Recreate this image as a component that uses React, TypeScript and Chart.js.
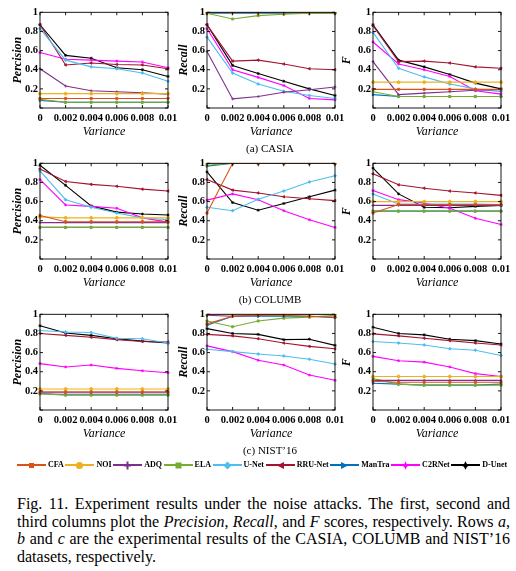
import React, { useEffect, useRef } from 'react';
import { Chart, registerables } from 'chart.js';
Chart.register(...registerables);

const FONT = "'Liberation Serif', 'Times New Roman', serif";

const xTickLabels = ['0', '0.002', '0.004', '0.006', '0.008', '0.01'];
const yTickValues = [0.2, 0.4, 0.6, 0.8, 1];
const yTickLabels = ['0.2', '0.4', '0.6', '0.8', '1'];

const methods = ['CFA', 'NOI', 'ADQ', 'ELA', 'U-Net', 'RRU-Net', 'ManTra', 'C2RNet', 'D-Unet'];
const colors = ['#D95319', '#EDB120', '#7E2F8E', '#77AC30', '#4DBEEE', '#A2142F', '#0072BD', '#FF00FF', '#000000'];
const pointStyles = ['rect', 'circle', 'cross', 'rect', 'rectRot', 'triangle', 'triangle', 'star', 'star'];
const pointRotations = [0, 0, 0, 0, 0, -90, 90, 0, 0];

// rows: CFA, NOI, ADQ, ELA, U-Net, RRU-Net, ManTra, C2RNet, D-Unet
const casiaPrecision = [
  [0.10, 0.10, 0.10, 0.10, 0.10, 0.10],
  [0.15, 0.15, 0.15, 0.15, 0.15, 0.15],
  [0.41, 0.23, 0.18, 0.17, 0.16, 0.145],
  [0.09, 0.06, 0.06, 0.06, 0.06, 0.06],
  [0.83, 0.50, 0.43, 0.41, 0.365, 0.28],
  [0.87, 0.45, 0.47, 0.455, 0.45, 0.41],
  [0.08, 0.06, 0.06, 0.06, 0.06, 0.06],
  [0.58, 0.51, 0.50, 0.49, 0.48, 0.42],
  [0.87, 0.55, 0.52, 0.42, 0.40, 0.33],
];
const casiaRecall = [
  [1, 1, 1, 1, 1, 1],
  [1, 1, 1, 1, 1, 1],
  [0.59, 0.095, 0.12, 0.165, 0.19, 0.22],
  [0.99, 0.93, 0.965, 0.98, 0.99, 0.99],
  [0.74, 0.365, 0.25, 0.175, 0.13, 0.10],
  [0.87, 0.49, 0.50, 0.46, 0.41, 0.40],
  [0.99, 0.99, 0.99, 0.99, 0.99, 0.99],
  [0.83, 0.40, 0.32, 0.235, 0.10, 0.085],
  [0.87, 0.445, 0.36, 0.28, 0.20, 0.13],
];
const casiaF = [
  [0.195, 0.195, 0.195, 0.195, 0.195, 0.195],
  [0.27, 0.27, 0.27, 0.27, 0.27, 0.27],
  [0.485, 0.14, 0.155, 0.17, 0.185, 0.19],
  [0.17, 0.12, 0.12, 0.12, 0.12, 0.12],
  [0.79, 0.415, 0.325, 0.25, 0.20, 0.17],
  [0.86, 0.485, 0.49, 0.47, 0.43, 0.415],
  [0.14, 0.12, 0.12, 0.12, 0.12, 0.12],
  [0.69, 0.46, 0.40, 0.33, 0.18, 0.145],
  [0.87, 0.50, 0.43, 0.35, 0.26, 0.20],
];
const columbPrecision = [
  [0.455, 0.39, 0.39, 0.39, 0.39, 0.39],
  [0.44, 0.43, 0.43, 0.43, 0.43, 0.43],
  [0.38, 0.38, 0.38, 0.38, 0.38, 0.38],
  [0.33, 0.33, 0.33, 0.33, 0.33, 0.33],
  [0.92, 0.62, 0.54, 0.48, 0.43, 0.41],
  [0.94, 0.81, 0.78, 0.76, 0.73, 0.71],
  [0.33, 0.33, 0.33, 0.33, 0.33, 0.33],
  [0.83, 0.565, 0.55, 0.53, 0.43, 0.385],
  [0.98, 0.77, 0.555, 0.49, 0.47, 0.46],
];
const columbRecall = [
  [0.48, 1, 1, 1, 1, 1],
  [1, 1, 1, 1, 1, 1],
  [1, 1, 1, 1, 1, 1],
  [0.98, 1, 1, 1, 1, 1],
  [0.54, 0.505, 0.625, 0.71, 0.805, 0.87],
  [0.83, 0.72, 0.69, 0.65, 0.63, 0.61],
  [0.97, 1, 1, 1, 1, 1],
  [0.615, 0.68, 0.62, 0.505, 0.41, 0.33],
  [0.91, 0.59, 0.51, 0.58, 0.65, 0.72],
];
const columbF = [
  [0.48, 0.57, 0.57, 0.57, 0.57, 0.57],
  [0.60, 0.60, 0.60, 0.60, 0.60, 0.60],
  [0.56, 0.56, 0.56, 0.56, 0.56, 0.56],
  [0.50, 0.50, 0.50, 0.50, 0.50, 0.50],
  [0.68, 0.575, 0.575, 0.575, 0.575, 0.57],
  [0.89, 0.775, 0.74, 0.71, 0.69, 0.665],
  [0.50, 0.50, 0.50, 0.50, 0.50, 0.50],
  [0.715, 0.62, 0.585, 0.53, 0.425, 0.36],
  [0.95, 0.68, 0.54, 0.535, 0.55, 0.56],
];
const nistPrecision = [
  [0.19, 0.19, 0.19, 0.19, 0.19, 0.19],
  [0.22, 0.22, 0.22, 0.22, 0.22, 0.22],
  [0.18, 0.18, 0.18, 0.18, 0.18, 0.18],
  [0.17, 0.155, 0.155, 0.155, 0.155, 0.155],
  [0.83, 0.815, 0.81, 0.75, 0.745, 0.70],
  [0.80, 0.78, 0.76, 0.735, 0.715, 0.71],
  [0.17, 0.16, 0.16, 0.16, 0.16, 0.16],
  [0.485, 0.45, 0.47, 0.435, 0.41, 0.39],
  [0.88, 0.805, 0.78, 0.745, 0.72, 0.70],
];
const nistRecall = [
  [0.90, 0.98, 0.99, 0.99, 0.98, 0.97],
  [1, 1, 1, 1, 1, 1],
  [0.99, 0.98, 0.99, 0.995, 1, 1],
  [0.93, 0.87, 0.93, 0.96, 0.97, 0.99],
  [0.635, 0.61, 0.585, 0.565, 0.53, 0.48],
  [0.79, 0.775, 0.745, 0.70, 0.665, 0.64],
  [0.885, 0.98, 0.98, 0.98, 0.98, 0.965],
  [0.67, 0.61, 0.52, 0.47, 0.365, 0.31],
  [0.85, 0.80, 0.79, 0.735, 0.74, 0.675],
];
const nistF = [
  [0.30, 0.29, 0.29, 0.29, 0.29, 0.29],
  [0.35, 0.35, 0.35, 0.35, 0.35, 0.35],
  [0.31, 0.31, 0.31, 0.31, 0.31, 0.31],
  [0.33, 0.27, 0.26, 0.26, 0.26, 0.26],
  [0.715, 0.70, 0.68, 0.64, 0.625, 0.57],
  [0.795, 0.775, 0.75, 0.725, 0.70, 0.68],
  [0.28, 0.27, 0.26, 0.26, 0.26, 0.27],
  [0.56, 0.515, 0.50, 0.45, 0.38, 0.35],
  [0.865, 0.80, 0.785, 0.74, 0.725, 0.69],
];

const rowData = [
  [casiaPrecision, casiaRecall, casiaF],
  [columbPrecision, columbRecall, columbF],
  [nistPrecision, nistRecall, nistF],
];
const yTitles = ['Percision', 'Recall', 'F'];
const yTitlePads = [10.8, 9.8, 6.8];
const rowLabels = ['(a) CASIA', '(b) COLUMB', '(c) NIST’16'];

const COL_LEFT = [40, 207, 373];
const ROW_TOP = [12, 163, 314];
const AREA_W = 128;
const AREA_H = 96;
const Y_AXIS_W = 40;
const X_AXIS_H = 34;
const PAD_TOP = 8;
const PAD_RIGHT = 14;

const boxPlugin = {
  id: 'matlabBox',
  afterDraw(chart: any) {
    const { ctx, chartArea, scales } = chart;
    const { left, right, top, bottom } = chartArea;
    ctx.save();
    ctx.strokeStyle = '#000';
    ctx.lineWidth = 0.9;
    ctx.strokeRect(left, top, right - left, bottom - top);
    const len = 3;
    ctx.beginPath();
    scales.x.ticks.forEach((_: any, i: number) => {
      const px = scales.x.getPixelForTick(i);
      ctx.moveTo(px, bottom);
      ctx.lineTo(px, bottom - len);
      ctx.moveTo(px, top);
      ctx.lineTo(px, top + len);
    });
    scales.y.ticks.forEach((_: any, i: number) => {
      const py = scales.y.getPixelForTick(i);
      ctx.moveTo(left, py);
      ctx.lineTo(left + len, py);
      ctx.moveTo(right, py);
      ctx.lineTo(right - len, py);
    });
    ctx.stroke();
    ctx.restore();
  },
};

function Panel({ data, col, row }: { data: number[][]; col: number; row: number }) {
  const ref = useRef<HTMLCanvasElement>(null);
  const cw = Y_AXIS_W + AREA_W + PAD_RIGHT;
  const ch = PAD_TOP + AREA_H + X_AXIS_H;
  useEffect(() => {
    const chart = new Chart(ref.current as HTMLCanvasElement, {
      type: 'line',
      data: {
        labels: xTickLabels,
        datasets: methods.map((m, i) => ({
          label: m,
          data: data[i],
          borderColor: colors[i],
          backgroundColor: colors[i],
          borderWidth: 1.1,
          pointRadius: 1.5,
          pointStyle: pointStyles[i] as any,
          pointRotation: pointRotations[i],
          pointBorderWidth: 0.8,
          tension: 0,
          fill: false,
        })),
      },
      options: {
        responsive: false,
        maintainAspectRatio: false,
        animation: false,
        layout: { padding: { top: PAD_TOP, right: PAD_RIGHT, left: 0, bottom: 0 } },
        plugins: { legend: { display: false }, tooltip: { enabled: false } },
        scales: {
          x: {
            type: 'category',
            offset: false,
            grid: { display: false, drawTicks: false },
            border: { display: false },
            ticks: {
              autoSkip: false,
              maxRotation: 0,
              minRotation: 0,
              padding: 4,
              color: '#000',
              font: { family: FONT, size: 10.5, weight: 'bold' },
            },
            title: {
              display: true,
              text: 'Variance',
              color: '#000',
              font: { family: FONT, size: 12, style: 'italic' },
              padding: { top: 0, bottom: 3 },
            },
            afterFit: (s: any) => {
              s.height = X_AXIS_H;
            },
          },
          y: {
            min: 0,
            max: 1,
            grid: { display: false, drawTicks: false },
            border: { display: false },
            ticks: {
              stepSize: 0.2,
              padding: 2,
              color: '#000',
              font: { family: FONT, size: 10.5, weight: 'bold' },
              callback: (v: any) => {
                const k = yTickValues.findIndex((t) => Math.abs(t - Number(v)) < 1e-6);
                return k >= 0 ? yTickLabels[k] : '';
              },
            },
            title: {
              display: true,
              text: yTitles[col],
              color: '#000',
              font: { family: FONT, size: 12, style: 'italic', weight: 'bold' },
              padding: { top: yTitlePads[col], bottom: 0 },
            },
            afterFit: (s: any) => {
              s.width = Y_AXIS_W;
            },
          },
        },
      } as any,
      plugins: [boxPlugin],
    });
    return () => chart.destroy();
  }, []);
  return (
    <canvas
      ref={ref}
      width={cw}
      height={ch}
      style={{
        position: 'absolute',
        left: COL_LEFT[col] - Y_AXIS_W,
        top: ROW_TOP[row] - PAD_TOP,
        width: cw,
        height: ch,
      }}
    />
  );
}

function LegendMarker({ idx }: { idx: number }) {
  const c = colors[idx];
  const s = 9;
  const h = s / 2;
  let shape: any = null;
  switch (idx) {
    case 0:
      shape = <rect x={h - 2.5} y={h - 2.5} width={5} height={5} fill={c} />;
      break;
    case 1:
      shape = <circle cx={h} cy={h} r={3.6} fill={c} />;
      break;
    case 2:
      shape = (
        <g stroke={c} strokeWidth={2}>
          <line x1={h} y1={0.5} x2={h} y2={s - 0.5} />
          <line x1={1} y1={h} x2={s - 1} y2={h} />
        </g>
      );
      break;
    case 3:
      shape = <rect x={h - 3} y={h - 3} width={6} height={6} fill={c} />;
      break;
    case 4:
      shape = <polygon points={`${h},0.5 ${s - 0.5},${h} ${h},${s - 0.5} 0.5,${h}`} fill={c} />;
      break;
    case 5:
      shape = <polygon points={`1,${h} ${s - 1},1 ${s - 1},${s - 1}`} fill={c} />;
      break;
    case 6:
      shape = <polygon points={`${s - 1},${h} 1,1 1,${s - 1}`} fill={c} />;
      break;
    case 7:
      shape = <polygon points={`${h},0.3 ${h + 1.3},${h - 1.3} ${s - 0.3},${h} ${h + 1.3},${h + 1.3} ${h},${s - 0.3} ${h - 1.3},${h + 1.3} 0.3,${h} ${h - 1.3},${h - 1.3}`} fill={c} />;
      break;
    default:
      shape = <polygon points={`${h},0.3 ${h + 1.6},${h - 1.2} ${s - 0.3},${h} ${h + 1.6},${h + 1.2} ${h},${s - 0.3} ${h - 1.6},${h + 1.2} 0.3,${h} ${h - 1.6},${h - 1.2}`} fill={c} />;
  }
  return (
    <svg width={s} height={s} style={{ position: 'absolute', left: 14.5 - h, top: 6 - h }}>
      {shape}
    </svg>
  );
}

function Legend() {
  return (
    <div
      style={{
        position: 'absolute',
        left: 17,
        top: 459,
        height: 12,
        display: 'flex',
        alignItems: 'center',
        fontFamily: FONT,
        fontSize: 8,
        fontWeight: 'bold',
        color: '#000',
        whiteSpace: 'nowrap',
      }}
    >
      {methods.map((m, i) => (
        <div key={m} style={{ display: 'flex', alignItems: 'center', marginRight: 1.6 }}>
          <div style={{ position: 'relative', width: 29, height: 12 }}>
            <div style={{ position: 'absolute', left: 0, top: 4.75, width: 29, height: 2.5, background: colors[i] }} />
            <LegendMarker idx={i} />
          </div>
          <span style={{ marginLeft: 2, lineHeight: '12px' }}>{m}</span>
        </div>
      ))}
    </div>
  );
}

export default function App() {
  return (
    <div style={{ position: 'absolute', left: 0, top: 0, width: 516, height: 571, background: '#fff', overflow: 'hidden' }}>
      {rowData.map((row, r) =>
        row.map((d, c) => <Panel key={`${r}-${c}`} data={d} col={c} row={r} />)
      )}
      {rowLabels.map((t, r) => (
        <div
          key={t}
          style={{
            position: 'absolute',
            left: 170,
            width: 200,
            top: ROW_TOP[r] + 129,
            textAlign: 'center',
            fontFamily: FONT,
            fontSize: 11,
            lineHeight: '14px',
            color: '#000',
          }}
        >
          {t}
        </div>
      ))}
      <Legend />
      <div
        style={{
          position: 'absolute',
          left: 17,
          top: 495,
          width: 493,
          fontFamily: FONT,
          fontSize: 16,
          lineHeight: '17.5px',
          textAlign: 'justify',
          color: '#000',
        }}
      >
        Fig. 11. Experiment results under the noise attacks. The first, second and third columns plot the{' '}
        <i>Precision</i>, <i>Recall</i>, and <i>F</i> scores, respectively. Rows <i>a</i>, <i>b</i> and <i>c</i> are
        the experimental results of the CASIA, COLUMB and NIST’16 datasets, respectively.
      </div>
    </div>
  );
}
